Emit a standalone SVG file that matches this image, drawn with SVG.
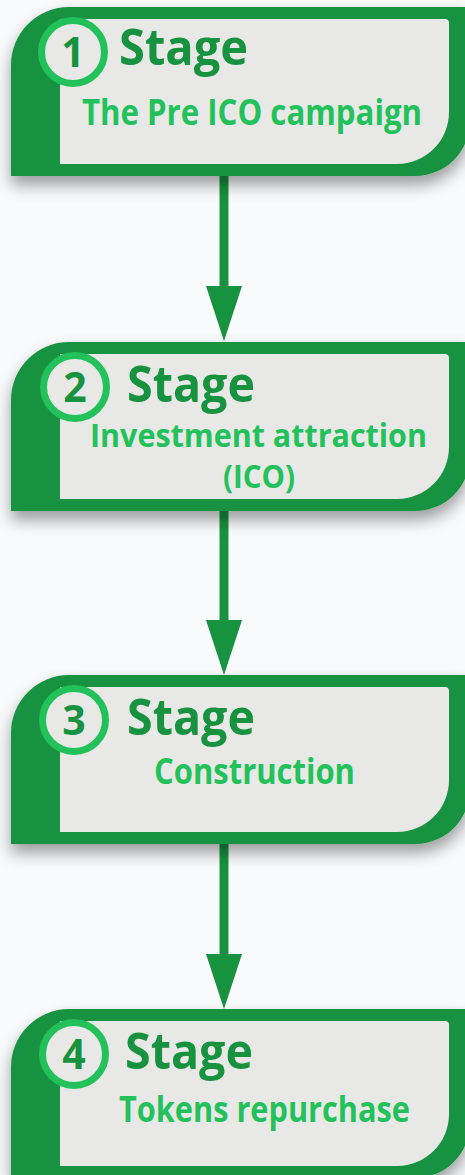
<svg xmlns="http://www.w3.org/2000/svg" width="465" height="1175" viewBox="0 0 465 1175">
<defs>
<filter id="sh" x="-10%" y="-10%" width="130%" height="150%">
<feDropShadow dx="0" dy="9" stdDeviation="8" flood-color="#000" flood-opacity="0.38"/>
</filter>
<marker id="ah" viewBox="0 0 55 36" refX="0" refY="18" markerWidth="55" markerHeight="36" markerUnits="userSpaceOnUse" orient="auto">
<path d="M0,0 L55,18 L0,36 Z" fill="#17923f"/>
</marker>
<path id="outer" d="M11,169 V58 A58 58 0 0 1 69,0 H470 V114 A55 55 0 0 1 415,169 Z"/>
<path id="inner" d="M60,12 H445 A4 4 0 0 1 449,16 V105 A52 52 0 0 1 397,157 H60 Z"/>
</defs>
<style>
.o{fill:#17923f}
.i{fill:#e8e9e7}
.ring{fill:#e8e9e7;stroke:#22c15a;stroke-width:7}
.num{font-family:"Open Sans","Liberation Sans",sans-serif;font-weight:700;font-size:41px;fill:#17923f;text-anchor:middle}
.st{font-family:"Open Sans","Liberation Sans",sans-serif;font-weight:700;font-size:51px;fill:#17923f}
.sub{font-family:"Open Sans","Liberation Sans",sans-serif;font-weight:700;font-size:35px;fill:#22c15a}
.sub2{font-size:33px}
.c{stroke:#17923f;stroke-width:9;fill:none;marker-end:url(#ah)}
</style>
<rect width="465" height="1175" fill="#f9fafc"/>
<g id="connectors">
<line class="c" x1="224" y1="170" x2="224" y2="286"/>
<line class="c" x1="224" y1="505" x2="224" y2="620"/>
<line class="c" x1="224" y1="838" x2="224" y2="954"/>
</g>
<g id="node1" transform="translate(0,7)">
<use href="#outer" class="o" filter="url(#sh)"/>
<use href="#inner" class="i"/>
<circle class="ring" cx="73" cy="45" r="31.5"/>
<text class="num" x="73" y="60">1</text>
<text class="st" x="119" y="58" textLength="129" lengthAdjust="spacingAndGlyphs">Stage</text>
<text class="sub" x="82" y="118" textLength="340" lengthAdjust="spacingAndGlyphs">The Pre ICO campaign</text>
</g>
<g id="node2" transform="translate(0,342)">
<use href="#outer" class="o" filter="url(#sh)"/>
<use href="#inner" class="i"/>
<circle class="ring" cx="75" cy="45" r="31.5"/>
<text class="num" x="75" y="60">2</text>
<text class="st" x="127" y="60" textLength="128" lengthAdjust="spacingAndGlyphs">Stage</text>
<text class="sub sub2" x="90" y="105" textLength="337" lengthAdjust="spacingAndGlyphs">Investment attraction</text>
<text class="sub sub2" x="223" y="146" textLength="72" lengthAdjust="spacingAndGlyphs">(ICO)</text>
</g>
<g id="node3" transform="translate(0,675)">
<use href="#outer" class="o" filter="url(#sh)"/>
<use href="#inner" class="i"/>
<circle class="ring" cx="74" cy="45" r="31.5"/>
<text class="num" x="74" y="60">3</text>
<text class="st" x="127" y="60" textLength="128" lengthAdjust="spacingAndGlyphs">Stage</text>
<text class="sub" x="154" y="109" textLength="201" lengthAdjust="spacingAndGlyphs">Construction</text>
</g>
<g id="node4" transform="translate(0,1009)">
<use href="#outer" class="o" filter="url(#sh)"/>
<use href="#inner" class="i"/>
<circle class="ring" cx="74" cy="45" r="31.5"/>
<text class="num" x="74" y="60">4</text>
<text class="st" x="125" y="60" textLength="128" lengthAdjust="spacingAndGlyphs">Stage</text>
<text class="sub" x="119" y="113" textLength="291" lengthAdjust="spacingAndGlyphs">Tokens repurchase</text>
</g>
</svg>
